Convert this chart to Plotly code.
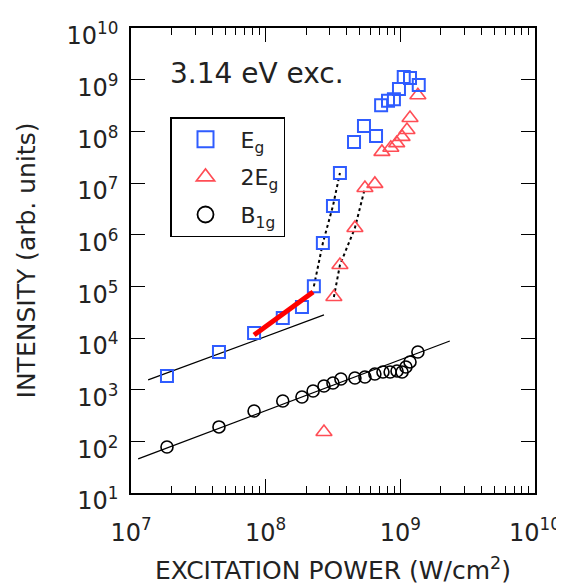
import plotly.graph_objects as go

# ---- data ----
eg_x = [1.85e7, 4.5e7, 8.2e7, 1.34e8, 1.86e8, 2.28e8, 2.66e8, 3.16e8, 3.56e8,
        4.53e8, 5.37e8, 6.6e8, 7.2e8, 8.1e8, 8.96e8, 9.77e8, 1.06e9, 1.18e9, 1.37e9]
eg_y = [1840, 5370, 1.25e4, 2.44e4, 3.98e4, 1.0e5, 6.9e5, 3.6e6, 1.56e7,
        6.2e7, 1.27e8, 8.1e7, 3.2e8, 3.9e8, 4.2e8, 6.6e8, 1.13e9, 1.08e9, 7.9e8]

e2g_x = [2.71e8, 3.21e8, 3.56e8, 4.6e8, 5.46e8, 6.47e8, 7.3e8, 8.5e8, 9.4e8,
         1.03e9, 1.12e9, 1.18e9, 1.35e9]
e2g_y = [152, 6.2e4, 2.59e5, 1.35e6, 8.0e6, 9.6e6, 4.0e7, 4.8e7, 5.9e7,
         7.8e7, 1.06e8, 1.81e8, 5.0e8]

b1g_x = [1.85e7, 4.5e7, 8.2e7, 1.34e8, 1.86e8, 2.25e8, 2.71e8, 3.16e8, 3.62e8,
         4.6e8, 5.46e8, 6.47e8, 7.43e8, 8.4e8, 9.45e8, 1.03e9, 1.10e9, 1.18e9, 1.35e9]
b1g_y = [77.8, 190, 387, 604, 722, 944, 1178, 1346, 1610,
         1683, 1760, 2010, 2200, 2200, 2300, 2200, 2750, 3440, 5360]

# linear (slope ~1) fits and the quadratic red fit
eg_fit_x = [1.34e7, 2.71e8]
eg_fit_y = [1540, 2.79e4]
b1g_fit_x = [1.13e7, 2.33e9]
b1g_fit_y = [45.6, 8750]
red_fit_x = [8.2e7, 2.25e8]
red_fit_y = [1.14e4, 7.8e4]

# dotted guide segments (indices into the series)
eg_dot = slice(5, 9)
e2g_dot = slice(1, 5)

x_tickvals = [1e7, 1e8, 1e9, 1e10]
x_ticktext = ["10<sup>7</sup>", "10<sup>8</sup>", "10<sup>9</sup>", "10<sup>10</sup>"]
y_tickvals = [10 ** k for k in range(1, 11)]
y_ticktext = ["10<sup>%d</sup>" % k for k in range(1, 11)]

BLUE = "#2f5cff"
RED = "#ff4d55"
FONT = "DejaVu Sans"
TXT = "#222"

fig = go.Figure()

# fit lines
fig.add_trace(go.Scatter(x=eg_fit_x, y=eg_fit_y, mode="lines",
                         line=dict(color="black", width=1.3), showlegend=False))
fig.add_trace(go.Scatter(x=b1g_fit_x, y=b1g_fit_y, mode="lines",
                         line=dict(color="black", width=1.3), showlegend=False))
# dotted guides
fig.add_trace(go.Scatter(x=eg_x[eg_dot], y=eg_y[eg_dot], mode="lines",
                         line=dict(color="black", width=2, dash="dot"), showlegend=False))
fig.add_trace(go.Scatter(x=e2g_x[e2g_dot], y=e2g_y[e2g_dot], mode="lines",
                         line=dict(color="black", width=2, dash="dot"), showlegend=False))

# data
fig.add_trace(go.Scatter(x=b1g_x, y=b1g_y, mode="markers", showlegend=False,
                         marker=dict(symbol="circle-open", size=12, color="black",
                                     line=dict(width=1.6, color="black"))))
fig.add_trace(go.Scatter(x=e2g_x, y=e2g_y, mode="markers", showlegend=False,
                         marker=dict(symbol="triangle-up-open", size=14, color=RED,
                                     line=dict(width=1.6, color=RED))))
fig.add_trace(go.Scatter(x=eg_x, y=eg_y, mode="markers", showlegend=False,
                         marker=dict(symbol="square-open", size=12, color=BLUE,
                                     line=dict(width=2, color=BLUE))))
# red quadratic fit on top
fig.add_trace(go.Scatter(x=red_fit_x, y=red_fit_y, mode="lines",
                         line=dict(color="#ff0000", width=5), showlegend=False))

# legend-only entries
fig.add_trace(go.Scatter(x=[None], y=[None], mode="markers", name="E<sub>g</sub>",
                         legendgroup="a",
                         marker=dict(symbol="square-open", size=16, color=BLUE,
                                     line=dict(width=2, color=BLUE))))
fig.add_trace(go.Scatter(x=[None], y=[None], mode="markers", name="2E<sub>g</sub>",
                         legendgroup="b",
                         marker=dict(symbol="triangle-up-open", size=16, color=RED,
                                     line=dict(width=1.6, color=RED))))
fig.add_trace(go.Scatter(x=[None], y=[None], mode="markers", name="B<sub>1g</sub>",
                         legendgroup="c",
                         marker=dict(symbol="circle-open", size=16, color="black",
                                     line=dict(width=1.8, color="black"))))

axis_common = dict(type="log", showline=True, linecolor="black", linewidth=1.5,
                   mirror="allticks", ticks="inside", ticklen=14, tickwidth=1.3,
                   tickcolor="black", showgrid=False, zeroline=False,
                   tickfont=dict(family=FONT, size=24, color=TXT))

fig.update_xaxes(**axis_common, range=[7, 10], tickvals=x_tickvals, ticktext=x_ticktext,
                 ticklabelstandoff=17,
                 minor=dict(ticks="inside", ticklen=7, tickwidth=1.2, tickcolor="black",
                            dtick="D1", showgrid=False),
                 title=dict(text="EXCITATION POWER (W/cm<sup>2</sup>)",
                            font=dict(family=FONT, size=25, color=TXT), standoff=16))
fig.update_yaxes(**axis_common, range=[1, 10], tickvals=y_tickvals, ticktext=y_ticktext,
                 ticklabelstandoff=6, ticklabelshift=8,
                 title=dict(text="INTENSITY (arb. units)",
                            font=dict(family=FONT, size=25, color=TXT), standoff=24))

# page has an 8px body margin; plot area spans x 131..535, y 28..493 on screen
fig.add_annotation(text="3.14 eV exc.", xref="paper", yref="paper",
                   x=(168 - 131) / 404, y=(493 - 73) / 465, xanchor="left", yanchor="middle",
                   showarrow=False, font=dict(family=FONT, size=28, color=TXT))

fig.update_layout(
    width=564, height=587,
    margin=dict(l=123, r=37, t=20, b=102, autoexpand=False),
    paper_bgcolor="white", plot_bgcolor="white",
    legend=dict(x=(170 - 131) / 404, y=(493 - 117) / 465, xanchor="left", yanchor="top",
                bordercolor="black", borderwidth=1.5, bgcolor="white",
                font=dict(family=FONT, size=22, color=TXT),
                tracegroupgap=6, indentation=-1, itemwidth=60),
)

fig.write_html("out.html")
